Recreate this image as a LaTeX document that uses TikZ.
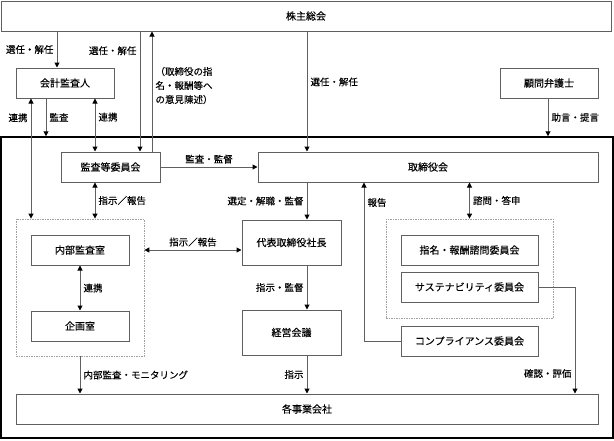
\documentclass[tikz,border=0pt]{standalone}
\usepackage{fontspec}
\setmainfont{Noto Sans CJK JP}[FakeBold=0.3]
\usetikzlibrary{arrows.meta}
\definecolor{linegray}{HTML}{606060}
\definecolor{dashgray}{HTML}{A0A0A0}
\begin{document}
\begin{tikzpicture}[x=1pt,y=-1pt,
    box/.style={draw=linegray, line width=1pt, minimum height=30pt, inner sep=0pt, font=\fontsize{10}{12}\selectfont},
    group/.style={draw=dashgray, dash pattern=on 1.5pt off 1pt, line width=0.8pt, inner sep=0pt},
    conn/.style={draw=linegray, line width=1pt, -{Triangle[length=5pt,width=5pt,color=black]}},
    both/.style={conn, {Triangle[length=5pt,width=5pt,color=black]}-{Triangle[length=5pt,width=5pt,color=black]}},
    lbl/.style={font=\fontsize{9.5}{11}\selectfont, inner sep=3pt}]
  \useasboundingbox (0,0) rectangle (614,440);
  \node[draw=black, line width=1.5pt, minimum width=612pt, minimum height=301pt, inner sep=0pt] (outer) at (307,287.5) {};
  \node[box, minimum width=610pt] (soukai) at (306,16) {株主総会};
  \node[box, minimum width=98pt] (kaikei) at (65,83) {会計監査人};
  \node[box, minimum width=98pt] (komon) at (549,83) {顧問弁護士};
  \node[box, minimum width=99pt] (kansa) at (110.5,167) {監査等委員会};
  \node[box, minimum width=340pt] (torishimari) at (428,167) {取締役会};
  \node[box, minimum width=99pt, minimum height=45pt] (shacho) at (291.5,242.5) {代表取締役社長};
  \node[box, minimum width=99pt, minimum height=45pt] (keiei) at (291.5,332.5) {経営会議};
  \node[group, minimum width=128pt, minimum height=137pt] (naibu) at (80,287.5) {};
  \node[box, minimum width=98pt] (naibukansa) at (80,250) {内部監査室};
  \node[box, minimum width=98pt] (kikaku) at (80,326) {企画室};
  \node[group, minimum width=167pt, minimum height=99pt] (iinkai) at (469.5,268.5) {};
  \node[box, minimum width=137pt] (shimei) at (469.5,250) {指名・報酬諮問委員会};
  \node[box, minimum width=137pt] (sustain) at (469.5,287) {サステナビリティ委員会};
  \node[box, minimum width=137pt] (compliance) at (469.5,341) {コンプライアンス委員会};
  \node[box, minimum width=582pt] (jigyo) at (307,409) {各事業会社};

  \draw[conn] (57,0 |- soukai.south) -- node[lbl, left] {選任・解任} (57,0 |- kaikei.north);
  \draw[conn] (140,0 |- soukai.south) -- node[lbl, left, pos=0.16] {選任・解任} (140,0 |- kansa.north);
  \draw[conn] (152,0 |- kansa.north) -- node[lbl, right, pos=0.55, align=left, font=\fontsize{9.5}{14}\selectfont]
    {（取締役の指\\名・報酬等へ\\の意見陳述）} (152,0 |- soukai.south);
  \draw[conn] (307,0 |- soukai.south) -- node[lbl, right, pos=0.42] {選任・解任} (307,0 |- torishimari.north);
  \draw[both] (31,0 |- kaikei.south) -- node[lbl, left, pos=0.16] {連携} (31,0 |- naibu.north);
  \draw[conn] (46,0 |- kaikei.south) -- node[lbl, right] {監査} (46,0 |- outer.north);
  \draw[both] (95,0 |- kaikei.south) -- node[lbl, right, pos=0.35] {連携} (95,0 |- kansa.north);
  \draw[conn] (548,0 |- komon.south) -- node[lbl, right] {助言・提言} (548,0 |- outer.north);
  \draw[conn] (kansa.east) -- node[lbl, above] {監査・監督} (torishimari.west);
  \draw[conn] (307,0 |- torishimari.south) -- node[lbl, left] {選定・解職・監督} (307,0 |- shacho.north);
  \draw[both] (95,0 |- kansa.south) -- node[lbl, right] {指示／報告} (95,0 |- naibu.north);
  \draw[both] (naibu.east |- naibukansa) -- node[lbl, above] {指示／報告} (shacho.west |- naibukansa);
  \draw[both] (naibukansa.south) -- node[lbl, right] {連携} (kikaku.north);
  \draw[conn] (307,0 |- shacho.south) -- node[lbl, left] {指示・監督} (307,0 |- keiei.north);
  \draw[conn] (307,0 |- keiei.south) -- node[lbl, left] {指示} (307,0 |- jigyo.north);
  \draw[conn] (naibu.south) -- node[lbl, right] {内部監査・モニタリング} (naibu.south |- jigyo.north);
  \draw[both] (iinkai.north |- torishimari.south) -- node[lbl, right] {諮問・答申} (iinkai.north);
  \draw[conn] (compliance.west) -| node[lbl, right, pos=0.937] {報告} (364,0 |- torishimari.south);
  \draw[conn] (sustain.east) -| node[lbl, left, pos=0.906] {確認・評価} (575,0 |- jigyo.north);
\end{tikzpicture}
\end{document}
